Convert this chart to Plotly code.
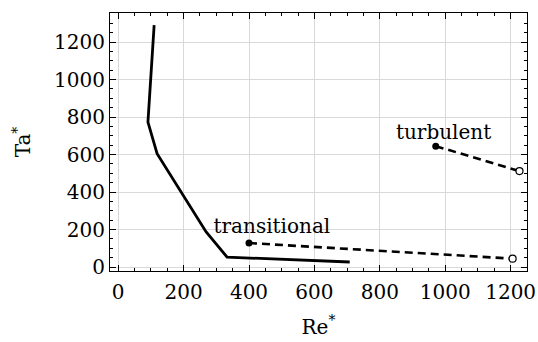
import plotly.graph_objects as go

# Boundary curve (solid)
bound_re = [110, 91, 119, 269, 333, 708]
bound_ta = [1290, 773, 605, 187, 53, 27]

# Transitional path (dashed)
trans_re = [400, 1206]
trans_ta = [128, 45]

# Turbulent path (dashed)
turb_re = [971, 1227]
turb_ta = [645, 512]

labels = ["transitional", "turbulent"]
label_re = [470, 995]
label_ta = [206, 712]

FONT = "DejaVu Serif"
FS = 20
fig = go.Figure()
fig.add_trace(go.Scatter(x=bound_re, y=bound_ta, mode="lines",
                         line=dict(color="black", width=2.8), showlegend=False))
for xs, ys in [(trans_re, trans_ta), (turb_re, turb_ta)]:
    fig.add_trace(go.Scatter(x=xs, y=ys, mode="lines",
                             line=dict(color="black", width=2.6, dash="8px,5px"),
                             showlegend=False))
    fig.add_trace(go.Scatter(x=[xs[0]], y=[ys[0]], mode="markers",
                             marker=dict(color="black", size=7), showlegend=False))
    fig.add_trace(go.Scatter(x=[xs[-1]], y=[ys[-1]], mode="markers",
                             marker=dict(color="white", size=7, line=dict(color="black", width=1.2)),
                             showlegend=False))
fig.add_trace(go.Scatter(x=label_re, y=label_ta, mode="text", text=labels,
                         textfont=dict(family=FONT, size=FS, color="black"),
                         showlegend=False))

axis_common = dict(
    showline=True, linecolor="black", linewidth=1.2, mirror="allticks",
    ticks="inside", ticklen=6, tickwidth=1.2, tickcolor="black",
    showgrid=True, gridcolor="#d9d9d9", gridwidth=1, zeroline=False,
    tickfont=dict(family=FONT, size=FS, color="black"), automargin=False,
    minor=dict(ticks="inside", ticklen=3, tickwidth=1, tickcolor="black", dtick=50, showgrid=False),
)
fig.update_xaxes(range=[-25, 1250], tick0=0, dtick=200, ticklabelstandoff=3, **axis_common,
                 title=dict(text="Re<sup>*</sup>", font=dict(family=FONT, size=FS, color="black"), standoff=16))
fig.update_yaxes(range=[-21, 1355], tick0=0, dtick=200, **axis_common,
                 title=dict(text="Ta<sup>*</sup>", font=dict(family=FONT, size=FS, color="black"), standoff=17))
fig.update_layout(width=538, height=342, margin=dict(l=110, r=11, t=13, b=71),
                  plot_bgcolor="white", paper_bgcolor="white",
                  font=dict(family=FONT, size=FS, color="black"))
fig.write_html("out.html")
